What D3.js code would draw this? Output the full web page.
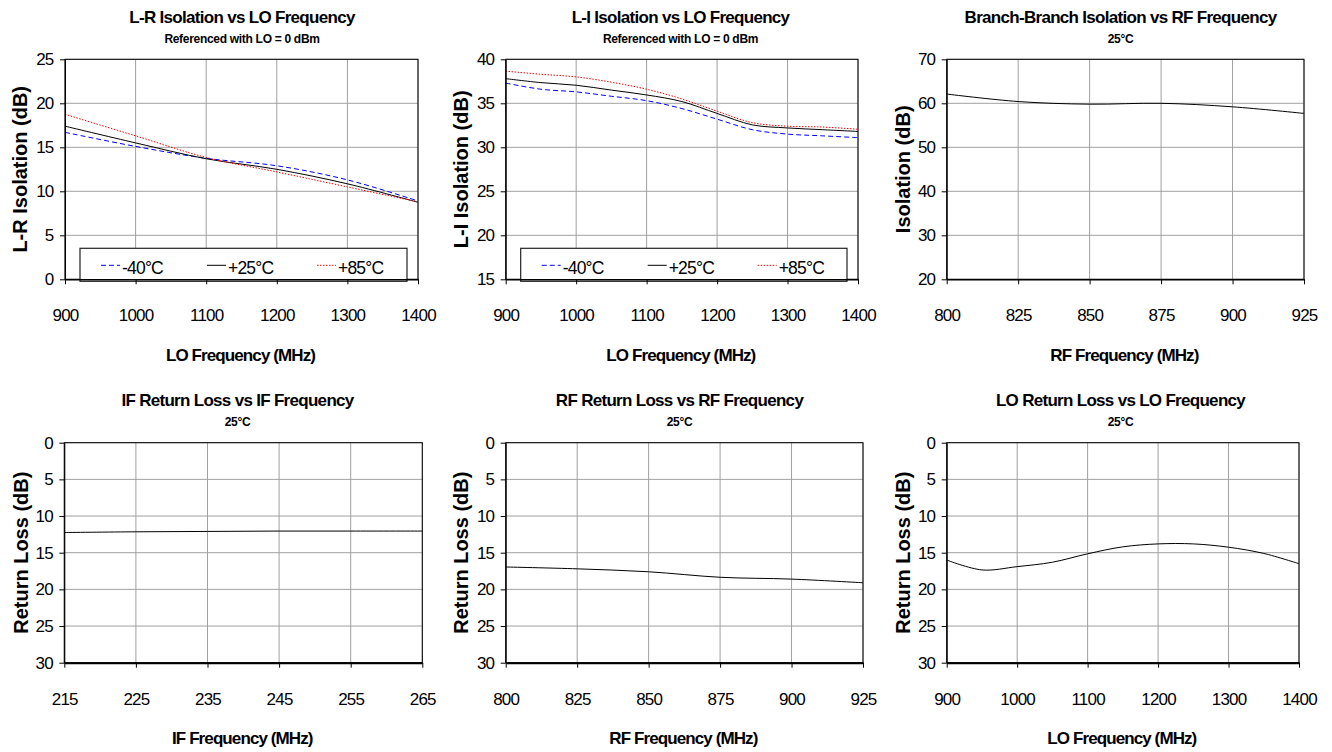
<!DOCTYPE html>
<html>
<head>
<meta charset="utf-8">
<script src="https://cdn.jsdelivr.net/npm/d3@7"></script>
<style>
  body { margin: 0; background: #fff; }
  svg { font-family: "Liberation Sans", Arial, sans-serif; }
</style>
</head>
<body>
<svg id="chart" width="1332" height="752"></svg>
<script>
// --- data ---
const lrFreq = [900, 1000, 1100, 1200, 1300, 1400];
const lrM40 = [16.7, 15.1, 13.75, 12.9, 11.3, 8.9];
const lrP25 = [17.4, 15.5, 13.7, 12.5, 10.85, 8.75];
const lrP85 = [18.75, 16.3, 13.85, 12.2, 10.5, 8.8];

const liFreq = [900, 950, 1000, 1050, 1100, 1150, 1200, 1250, 1300, 1350, 1400];
const liM40 = [37.3, 36.6, 36.3, 35.8, 35.3, 34.4, 33.2, 32.0, 31.5, 31.3, 31.1];
const liP25 = [37.8, 37.35, 37.05, 36.5, 35.95, 35.2, 33.85, 32.55, 32.2, 32.0, 31.8];
const liP85 = [38.65, 38.3, 38.0, 37.4, 36.6, 35.5, 34.1, 32.8, 32.4, 32.3, 32.05];

const bbFreq = [800, 825, 850, 875, 900, 925];
const bbIso = [62.1, 60.4, 59.8, 60.0, 59.2, 57.7];

const ifFreq = [215, 225, 235, 245, 255, 265];
const ifRL = [12.25, 12.15, 12.1, 12.05, 12.05, 12.05];

const rfFreq = [800, 825, 850, 875, 900, 925];
const rfRL = [16.95, 17.2, 17.6, 18.35, 18.6, 19.1];

const loFreq = [900, 950, 1000, 1050, 1100, 1150, 1200, 1250, 1300, 1350, 1400];
const loRL = [16.0, 17.35, 16.9, 16.3, 15.15, 14.2, 13.8, 13.8, 14.25, 15.1, 16.5];

const loTicks = [900, 1000, 1100, 1200, 1300, 1400];
const rfTicks = [800, 825, 850, 875, 900, 925];
const ifTicks = [215, 225, 235, 245, 255, 265];

const tempLabels = ["-40°C", "+25°C", "+85°C"];

// series styles
const styles = {
  m40: { color: "#0000ff", dash: "5,3" },
  p25: { color: "#000000", dash: null },
  p85: { color: "#ff0000", dash: "1.5,1.5" }
};

const zip = (xs, ys) => xs.map((x, i) => ({ x: x, y: ys[i] }));
const FONT = '"Liberation Sans", Arial, sans-serif';

const panels = [
  { title: "L-R Isolation vs LO Frequency", sub: "Referenced with LO = 0 dBm",
    x0: 65, x1: 418, y0: 59.3, tx: 242,
    xDom: [900, 1400], xTicks: loTicks, yDom: [0, 25], yTicks: [0, 5, 10, 15, 20, 25], inv: false,
    xLabel: "LO Frequency (MHz)", yLabel: "L-R Isolation (dB)", yl: 20,
    series: [
      { d: zip(lrFreq, lrM40), s: styles.m40 },
      { d: zip(lrFreq, lrP25), s: styles.p25 },
      { d: zip(lrFreq, lrP85), s: styles.p85 }
    ], legend: true },
  { title: "L-I Isolation vs LO Frequency", sub: "Referenced with LO = 0 dBm",
    x0: 505.7, x1: 858, y0: 59.3, tx: 680.5,
    xDom: [900, 1400], xTicks: loTicks, yDom: [15, 40], yTicks: [15, 20, 25, 30, 35, 40], inv: false,
    xLabel: "LO Frequency (MHz)", yLabel: "L-I Isolation (dB)", yl: 460.5,
    series: [
      { d: zip(liFreq, liM40), s: styles.m40 },
      { d: zip(liFreq, liP25), s: styles.p25 },
      { d: zip(liFreq, liP85), s: styles.p85 }
    ], legend: true },
  { title: "Branch-Branch Isolation vs RF Frequency", sub: "25°C",
    x0: 946.7, x1: 1304, y0: 59.3, tx: 1120.5,
    xDom: [800, 925], xTicks: rfTicks, yDom: [20, 70], yTicks: [20, 30, 40, 50, 60, 70], inv: false,
    xLabel: "RF Frequency (MHz)", yLabel: "Isolation (dB)", yl: 902.5,
    series: [{ d: zip(bbFreq, bbIso), s: styles.p25 }], legend: false },
  { title: "IF Return Loss vs IF Frequency", sub: "25°C",
    x0: 64.3, x1: 422.3, y0: 442.7, tx: 237.5,
    xDom: [215, 265], xTicks: ifTicks, yDom: [0, 30], yTicks: [0, 5, 10, 15, 20, 25, 30], inv: true,
    xLabel: "IF Frequency (MHz)", yLabel: "Return Loss (dB)", yl: 21,
    series: [{ d: zip(ifFreq, ifRL), s: styles.p25 }], legend: false },
  { title: "RF Return Loss vs RF Frequency", sub: "25°C",
    x0: 505.7, x1: 863, y0: 442.7, tx: 679.5,
    xDom: [800, 925], xTicks: rfTicks, yDom: [0, 30], yTicks: [0, 5, 10, 15, 20, 25, 30], inv: true,
    xLabel: "RF Frequency (MHz)", yLabel: "Return Loss (dB)", yl: 460.5,
    series: [{ d: zip(rfFreq, rfRL), s: styles.p25 }], legend: false },
  { title: "LO Return Loss vs LO Frequency", sub: "25°C",
    x0: 946.7, x1: 1299, y0: 442.7, tx: 1120.5,
    xDom: [900, 1400], xTicks: loTicks, yDom: [0, 30], yTicks: [0, 5, 10, 15, 20, 25, 30], inv: true,
    xLabel: "LO Frequency (MHz)", yLabel: "Return Loss (dB)", yl: 902.5,
    series: [{ d: zip(loFreq, loRL), s: styles.p25 }], legend: false }
];

const svg = d3.select("#chart");
const plotH = 220;

panels.forEach(p => {
  const y1 = p.y0 + plotH;
  const x = d3.scaleLinear().domain(p.xDom).range([p.x0, p.x1]);
  const y = d3.scaleLinear().domain(p.yDom).range(p.inv ? [p.y0, y1] : [y1, p.y0]);
  const g = svg.append("g");

  // titles
  g.append("text").attr("x", p.tx).attr("y", p.y0 - 36.5)
    .attr("text-anchor", "middle").attr("font-size", 17).attr("font-weight", "bold")
    .attr("letter-spacing", -0.7).text(p.title);
  g.append("text").attr("x", p.tx).attr("y", p.y0 - 16.5)
    .attr("text-anchor", "middle").attr("font-size", 12).attr("font-weight", "bold")
    .attr("letter-spacing", -0.3).text(p.sub);

  // grid
  g.append("g").selectAll("line").data(p.xTicks).join("line")
    .attr("x1", d => x(d)).attr("x2", d => x(d))
    .attr("y1", p.y0).attr("y2", y1)
    .attr("stroke", "#a0a0a0").attr("stroke-width", 1);
  g.append("g").selectAll("line").data(p.yTicks).join("line")
    .attr("x1", p.x0).attr("x2", p.x1)
    .attr("y1", d => y(d)).attr("y2", d => y(d))
    .attr("stroke", "#a0a0a0").attr("stroke-width", 1);

  // frame
  g.append("rect").attr("x", p.x0).attr("y", p.y0)
    .attr("width", p.x1 - p.x0).attr("height", plotH)
    .attr("fill", "none").attr("stroke", "#000").attr("stroke-width", 1);

  // legend
  if (p.legend) {
    const lx = p.x0 + 15, lw = (p.x1 - 11) - lx, ly = y1 - 31, lh = 33;
    const lg = g.append("g");
    lg.append("rect").attr("x", lx).attr("y", ly).attr("width", lw).attr("height", lh)
      .attr("fill", "#fff").attr("stroke", "#222").attr("stroke-width", 1.2);
    const offs = [21, 127, 237];
    p.series.forEach((s, i) => {
      const ex = lx + offs[i];
      const cy = ly + lh / 2 + 3;
      lg.append("line").attr("x1", ex).attr("x2", ex + 19)
        .attr("y1", cy - 2.5).attr("y2", cy - 2.5)
        .attr("stroke", s.s.color).attr("stroke-width", 1)
        .attr("stroke-dasharray", s.s.dash);
      lg.append("text").attr("x", ex + 21).attr("y", cy).attr("dy", "0.35em")
        .attr("font-size", 17.5).attr("letter-spacing", -0.8).text(tempLabels[i]);
    });
  }

  // series
  const line = d3.line().x(d => x(d.x)).y(d => y(d.y)).curve(d3.curveCatmullRom.alpha(0.5));
  p.series.forEach(s => {
    g.append("path").datum(s.d).attr("d", line)
      .attr("fill", "none").attr("stroke", s.s.color).attr("stroke-width", 1)
      .attr("stroke-dasharray", s.s.dash);
  });

  // axes
  const xa = g.append("g").attr("transform", `translate(0,${y1})`)
    .call(d3.axisBottom(x).tickValues(p.xTicks).tickFormat(d3.format("d"))
      .tickSize(5).tickSizeOuter(0).tickPadding(25));
  const ya = g.append("g").attr("transform", `translate(${p.x0},0)`)
    .call(d3.axisLeft(y).tickValues(p.yTicks).tickFormat(d3.format("d"))
      .tickSize(5).tickSizeOuter(0).tickPadding(6.5));
  [xa, ya].forEach(a => {
    a.attr("font-family", FONT).attr("font-size", 17);
    a.selectAll("text").attr("fill", "#000").attr("letter-spacing", -0.8);
    a.selectAll("line").attr("stroke", "#000");
    a.select(".domain").attr("stroke", "#000");
  });
  xa.select(".domain").attr("stroke-width", p.inv ? 2 : 1.5);

  // axis titles
  g.append("text").attr("x", (p.x0 + p.x1) / 2 - 1).attr("y", y1 + 81.5)
    .attr("text-anchor", "middle").attr("font-size", 17).attr("font-weight", "bold")
    .attr("letter-spacing", -0.9).text(p.xLabel);
  g.append("text")
    .attr("transform", `translate(${p.yl + 7},${(p.y0 + y1) / 2}) rotate(-90)`)
    .attr("text-anchor", "middle").attr("font-size", 20).attr("font-weight", "bold")
    .text(p.yLabel);
});
</script>
</body>
</html>
